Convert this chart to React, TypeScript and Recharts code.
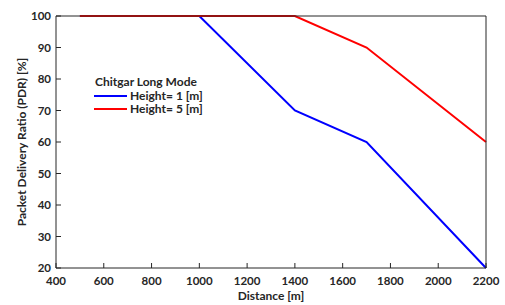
import { LineChart, Line, XAxis, YAxis, Legend } from "recharts";

const distances = [500, 1000, 1400, 1700, 2200];
const height1 = [100, 100, 70, 60, 20];
const height5 = [100, 100, 100, 90, 60];
const xTicks = [400, 600, 800, 1000, 1200, 1400, 1600, 1800, 2000, 2200];
const yTicks = [20, 30, 40, 50, 60, 70, 80, 90, 100];
const seriesNames = ["Height= 1 [m]", "Height= 5 [m]"];
const legendTitle = "Chitgar Long Mode";

const data = distances.map((d, i) => ({ d, h1: height1[i], h5: height5[i] }));

const FONT = "Lato, 'Open Sans', sans-serif";
const INK = "#262626";
const tickStyle = { fill: INK, fontSize: 11.5, fontWeight: 700, fontFamily: FONT };

function LegendBox() {
  const items = [
    { name: seriesNames[0], color: "#0000ff" },
    { name: seriesNames[1], color: "#ff0000" },
  ];
  return (
    <div style={{ fontFamily: FONT, fontWeight: 700, fontSize: 12, color: INK, lineHeight: "14px" }}>
      <div style={{ marginLeft: 1, height: 14 }}>{legendTitle}</div>
      {items.map((it) => (
        <div key={it.name} style={{ display: "flex", alignItems: "center", height: 13.5 }}>
          <svg width={33} height={4} style={{ marginRight: 3 }}>
            <line x1={0} y1={2} x2={33} y2={2} stroke={it.color} strokeWidth={2} />
          </svg>
          <span>{it.name}</span>
        </div>
      ))}
    </div>
  );
}

export default function App() {
  return (
    <div style={{ position: "absolute", left: 0, top: 0, background: "#fff" }}>
      <LineChart width={505} height={305} data={data} margin={{ top: 15, right: 18, left: 0, bottom: 0 }}>
        <XAxis
          dataKey="d"
          type="number"
          domain={[400, 2200]}
          ticks={xTicks}
          height={37}
          stroke={INK}
          tickSize={-5}
          tickMargin={14}
          tick={tickStyle}
          label={{ value: "Distance [m]", position: "insideBottom", offset: 5, fill: INK, fontSize: 12, fontWeight: 700, fontFamily: FONT }}
        />
        <XAxis
          xAxisId="top"
          dataKey="d"
          type="number"
          orientation="top"
          domain={[400, 2200]}
          ticks={xTicks}
          height={1}
          stroke={INK}
          tickSize={-5}
          tick={false}
        />
        <YAxis
          type="number"
          domain={[20, 100]}
          ticks={yTicks}
          width={56}
          stroke={INK}
          tickSize={-5}
          tickMargin={10}
          tick={tickStyle}
          label={{ value: "Packet Delivery Ratio (PDR) [%]", angle: -90, position: "center", dx: -6, fill: INK, fontSize: 12, fontWeight: 700, fontFamily: FONT }}
        />
        <YAxis
          yAxisId="right"
          type="number"
          orientation="right"
          domain={[20, 100]}
          ticks={yTicks}
          width={1}
          stroke={INK}
          tickSize={-5}
          tick={false}
        />
        <Legend
          layout="vertical"
          align="center"
          verticalAlign="middle"
          wrapperStyle={{ left: 94, top: 75, width: 140 }}
          content={() => <LegendBox />}
        />
        <Line dataKey="h1" name={seriesNames[0]} stroke="#0000ff" strokeWidth={2} dot={false} isAnimationActive={false} />
        <Line dataKey="h5" name={seriesNames[1]} stroke="#ff0000" strokeWidth={2} dot={false} isAnimationActive={false} />
      </LineChart>
    </div>
  );
}
